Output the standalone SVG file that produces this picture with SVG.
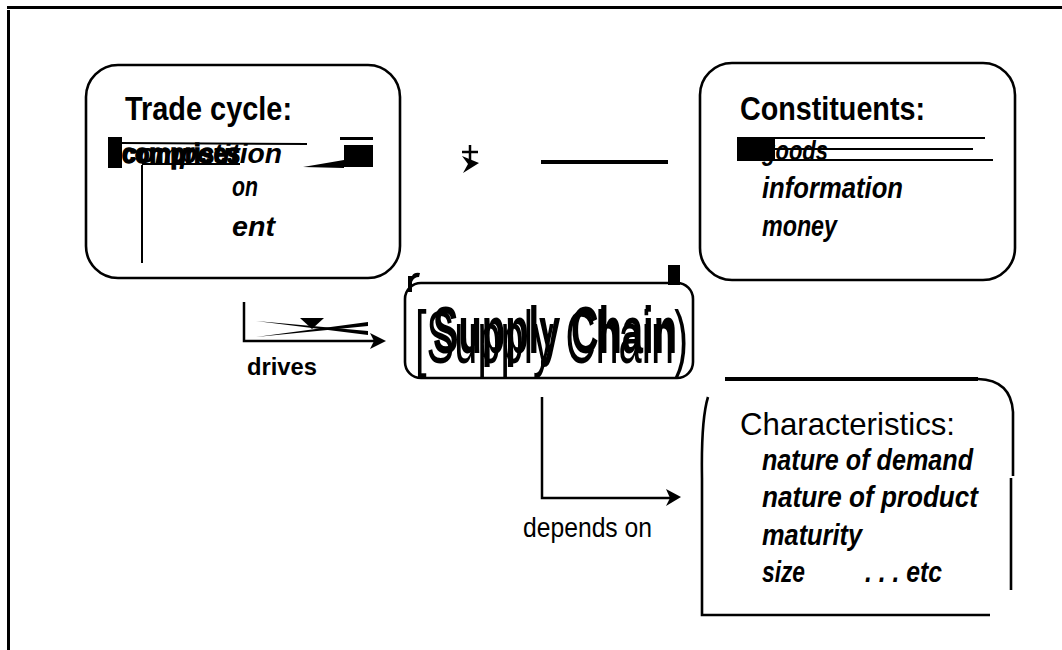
<svg xmlns="http://www.w3.org/2000/svg" width="1062" height="650" viewBox="0 0 1062 650">
<style>
.box{fill:none;stroke:#000;stroke-width:2.6}
.ln{stroke:#000;fill:none}
.hd{font-family:"Liberation Sans",Arial,sans-serif;font-weight:bold;fill:#000}
.it{font-family:"Liberation Sans",Arial,sans-serif;font-weight:bold;font-style:italic;fill:#000}
.rg{font-family:"Liberation Sans",Arial,sans-serif;fill:#000}
</style>
<rect width="1062" height="650" fill="#fff"/>
<g id="frame">
<rect x="7" y="6" width="1055" height="3" fill="#000"/>
<rect x="7" y="10" width="3" height="640" fill="#000"/>
</g>
<g id="trade-cycle">
<rect class="box" x="86" y="65" width="314" height="213" rx="32"/>
<text class="hd" x="125" y="120" font-size="34" textLength="167" lengthAdjust="spacingAndGlyphs">Trade cycle:</text>
<text class="it" x="122" y="163" font-size="28" textLength="160" lengthAdjust="spacingAndGlyphs">competition</text>
<text class="rg" x="122" y="163" font-size="28" textLength="118" lengthAdjust="spacingAndGlyphs" font-weight="bold" fill="#fff" stroke="#000" stroke-width="1.6">comprises</text>
<rect x="108" y="137" width="14" height="31" fill="#000"/>
<path class="ln" stroke-width="2" d="M120 143 L307 144"/>
<path class="ln" stroke-width="2" d="M142 164 L240 164"/>
<rect x="340" y="137" width="33" height="3" fill="#000"/>
<rect x="344" y="145" width="29" height="22" fill="#000"/>
<polygon points="303,167 344,160 344,168" fill="#000"/>
<path class="ln" stroke-width="2" d="M142 165 L142 263"/>
<text class="it" x="232" y="196" font-size="28" textLength="26" lengthAdjust="spacingAndGlyphs">on</text>
<text class="it" x="232" y="236" font-size="28" textLength="43" lengthAdjust="spacingAndGlyphs">ent</text>
</g>
<g id="constituents">
<rect class="box" x="700" y="63" width="315" height="217" rx="32"/>
<text class="hd" x="740" y="120" font-size="34" textLength="185" lengthAdjust="spacingAndGlyphs">Constituents:</text>
<text class="it" x="762" y="160" font-size="28" textLength="66" lengthAdjust="spacingAndGlyphs">goods</text>
<rect x="737" y="138" width="38" height="23" fill="#000"/>
<path class="ln" stroke-width="2" d="M737 138 L985 138 M775 149 L973 149 M737 160 L993 160"/>
<text class="it" x="762" y="198" font-size="29" textLength="141" lengthAdjust="spacingAndGlyphs">information</text>
<text class="it" x="762" y="236" font-size="29" textLength="75" lengthAdjust="spacingAndGlyphs">money</text>
</g>
<g id="supply-chain">
<rect class="box" x="405" y="283" width="288" height="95" rx="16"/>
<path d="M408 292 L408 276 L412 276 Q414 272 420 273 L419 277 Q414 277 412 282 L412 292 Z" fill="#000"/>
<rect x="668" y="265" width="12" height="20" fill="#000"/>
<text class="rg" x="415" y="363" font-size="75" textLength="273" lengthAdjust="spacingAndGlyphs">[Supply Chain)</text>
<text class="hd" x="433" y="353" font-size="66" textLength="244" lengthAdjust="spacingAndGlyphs">Supply Chain</text>
</g>
<g id="characteristics">
<path class="ln" stroke-width="4" d="M725 379 L978 379"/>
<path class="ln" stroke-width="2.6" d="M978 379 Q1011 380 1013 412 L1013 476 M1011 478 L1011 590"/>
<path class="ln" stroke-width="2.6" d="M708 397 Q701 420 702 478 L702 615 L990 615"/>
<text class="rg" x="740" y="435" font-size="32" textLength="215" lengthAdjust="spacingAndGlyphs" font-weight="300">Characteristics:</text>
<text class="it" x="762" y="470" font-size="30" textLength="211" lengthAdjust="spacingAndGlyphs">nature of demand</text>
<text class="it" x="762" y="507" font-size="30" textLength="216" lengthAdjust="spacingAndGlyphs">nature of product</text>
<text class="it" x="762" y="545" font-size="30" textLength="100" lengthAdjust="spacingAndGlyphs">maturity</text>
<text class="it" x="762" y="582" font-size="30" textLength="43" lengthAdjust="spacingAndGlyphs">size</text>
<text class="it" x="865" y="582" font-size="30" textLength="77" lengthAdjust="spacingAndGlyphs">. . . etc</text>
</g>
<g id="connectors">
<path class="ln" stroke-width="2.5" d="M470 145 L470 160 M462 152 L478 152"/>
<polygon points="462,156 479,163 463,173 468,164" fill="#000"/>
<path class="ln" stroke-width="4" d="M541 162 L668 162"/>
<path class="ln" stroke-width="2.5" d="M244 302 L244 341 L376 341"/>
<polygon points="370,333 386,341 370,349 374,341" fill="#000"/>
<polygon points="256,321 368,331 368,335" fill="#000"/>
<polygon points="256,337 368,322 368,326" fill="#000"/>
<polygon points="300,318 324,318 312,329" fill="#000"/>
<text class="hd" x="247" y="375" font-size="24" textLength="70" lengthAdjust="spacingAndGlyphs">drives</text>
<path class="ln" stroke-width="2.5" d="M542 397 L542 498 L671 498"/>
<polygon points="666,489 681,497 666,506 670,498" fill="#000"/>
<text class="rg" x="523" y="537" font-size="28" textLength="129" lengthAdjust="spacingAndGlyphs">depends on</text>
</g>
</svg>
